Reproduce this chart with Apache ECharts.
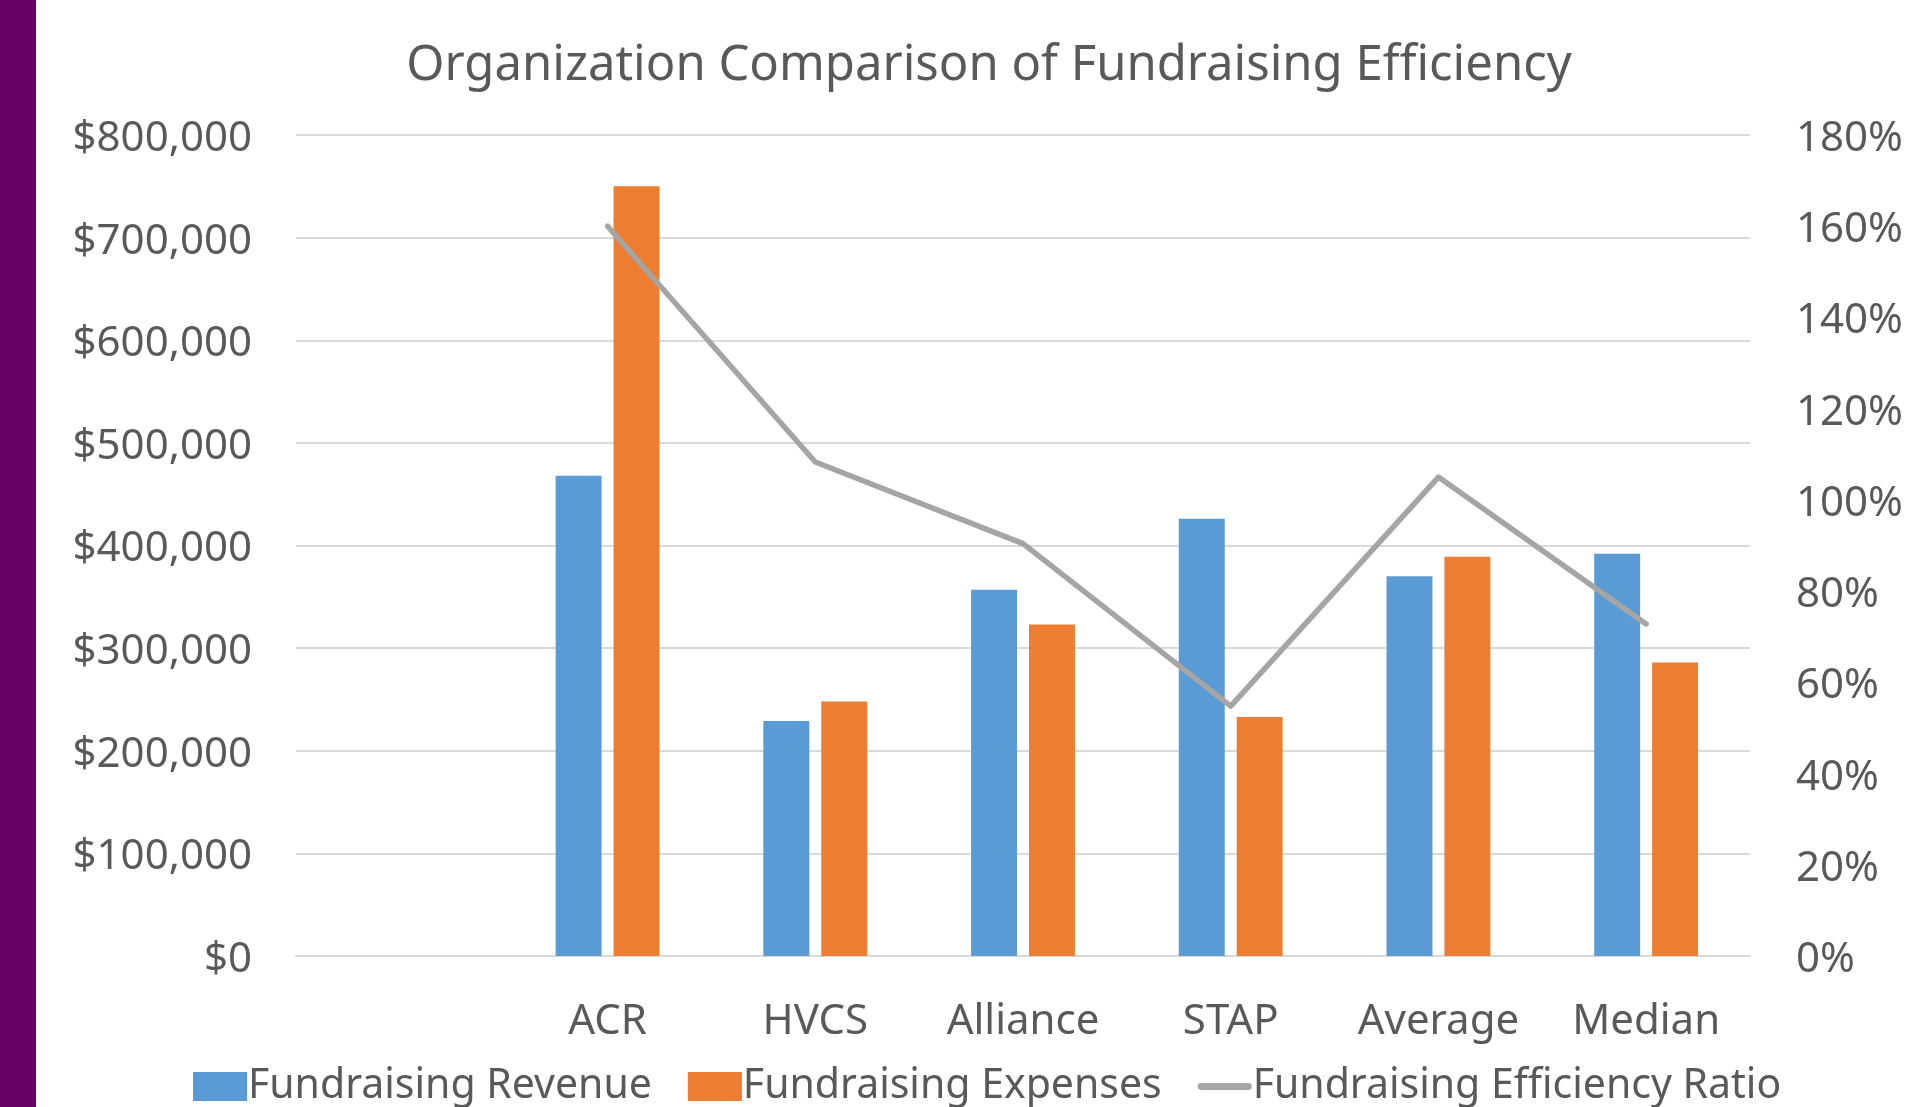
<!DOCTYPE html>
<html>
<head>
<meta charset="utf-8">
<script src="https://cdn.jsdelivr.net/npm/echarts@6/dist/echarts.min.js"></script>
<style>
html,body{margin:0;padding:0;background:#fff;}
#chart{width:1908px;height:1107px;}
</style>
</head>
<body>
<div id="chart"></div>
<script>
const titleText = 'Organization Comparison of Fundraising Efficiency';
const categories = ['', 'ACR', 'HVCS', 'Alliance', 'STAP', 'Average', 'Median'];
const revenue = [null, 468000, 229000, 357000, 426000, 370000, 392000];
const expenses = [null, 750000, 248000, 323000, 233000, 389000, 286000];
const efficiencyRatio = [null, 160.0, 108.3, 90.4, 54.8, 105.0, 72.8];
const seriesNames = ['Fundraising Revenue', 'Fundraising Expenses', 'Fundraising Efficiency Ratio'];
const leftTicks = { min: 0, max: 800000, interval: 100000 };
const rightTicks = { min: 0, max: 180, interval: 20 };

const FONT = '"Noto Sans", "Open Sans", sans-serif';
const TXT = '#595959';
const LINE_ICON = 'path://M0,0M54,29M3,11L51,11A3.5,3.5 0 0 1 51,18L3,18A3.5,3.5 0 0 1 3,11Z';
const tickRich = { t: { fontFamily: FONT, fontSize: 42, color: TXT, padding: [8, 0, 0, 0] } };

const chart = echarts.init(document.getElementById('chart'), null, { renderer: 'canvas' });
chart.setOption({
  backgroundColor: '#ffffff',
  animation: false,
  textStyle: { fontFamily: FONT },
  graphic: [{
    type: 'rect', left: 0, top: 0, z: 100,
    shape: { width: 36, height: 1107 },
    style: { fill: '#660066' }
  }],
  title: {
    text: titleText,
    left: 984, top: 37, textAlign: 'center',
    textStyle: { fontFamily: FONT, fontSize: 49, fontWeight: 'normal', color: TXT }
  },
  legend: {
    left: 188, top: 1061,
    itemWidth: 54, itemHeight: 29, itemGap: 36,
    textStyle: { fontFamily: FONT, fontSize: 41, color: TXT, padding: [0, 0, 0, -4] },
    data: [
      { name: seriesNames[0], icon: 'rect' },
      { name: seriesNames[1], icon: 'rect' },
      { name: seriesNames[2], icon: LINE_ICON }
    ]
  },
  grid: { left: 296, right: 158, top: 135, bottom: 151, containLabel: false },
  xAxis: {
    type: 'category',
    data: categories,
    axisTick: { show: false },
    axisLine: { lineStyle: { color: '#d9d9d9', width: 2 } },
    axisLabel: { fontFamily: FONT, fontSize: 42, color: TXT, margin: 45, interval: 0 }
  },
  yAxis: [{
    type: 'value',
    min: leftTicks.min, max: leftTicks.max, interval: leftTicks.interval,
    axisLine: { show: false }, axisTick: { show: false },
    splitLine: { lineStyle: { color: '#d9d9d9', width: 2 } },
    axisLabel: {
      fontFamily: FONT, fontSize: 42, color: TXT, margin: 44, rich: tickRich,
      formatter: v => '{t|$' + v.toLocaleString('en-US') + '}'
    }
  }, {
    type: 'value', position: 'right',
    min: rightTicks.min, max: rightTicks.max, interval: rightTicks.interval,
    axisLine: { show: false }, axisTick: { show: false },
    splitLine: { show: false },
    axisLabel: {
      fontFamily: FONT, fontSize: 42, color: TXT, margin: 46, rich: tickRich,
      formatter: v => '{t|' + v + '%}'
    }
  }],
  series: [{
    name: seriesNames[0], type: 'bar', data: revenue,
    itemStyle: { color: '#5b9bd5' },
    barGap: '26%', barCategoryGap: '50%'
  }, {
    name: seriesNames[1], type: 'bar', data: expenses,
    itemStyle: { color: '#ed7d31' },
    barGap: '26%', barCategoryGap: '50%'
  }, {
    name: seriesNames[2], type: 'line', yAxisIndex: 1, data: efficiencyRatio,
    symbol: 'none', z: 5,
    lineStyle: { color: '#a5a5a5', width: 5.5, cap: 'round', join: 'round' },
    itemStyle: { color: '#a5a5a5' }
  }]
});
</script>
</body>
</html>
